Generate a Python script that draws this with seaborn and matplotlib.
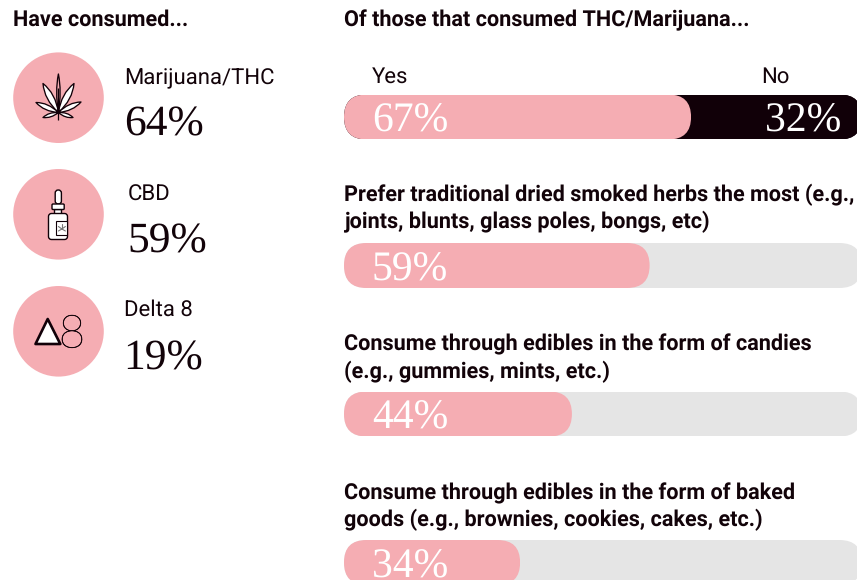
import matplotlib
matplotlib.use("Agg")
import matplotlib.pyplot as plt
from matplotlib import patheffects
from matplotlib.patches import Circle, FancyBboxPatch, PathPatch, Polygon, Rectangle
from matplotlib.path import Path
import pandas as pd
import seaborn as sns

# Survey figures
consumed_names = ["Marijuana/THC", "CBD", "Delta 8"]
consumed_values = [64, 59, 19]
question_labels = [
    "Yes/No",
    "Prefer traditional dried smoked herbs the most (e.g.,\njoints, blunts, glass poles, bongs, etc)",
    "Consume through edibles in the form of candies\n(e.g., gummies, mints, etc.)",
    "Consume through edibles in the form of baked\ngoods (e.g., brownies, cookies, cakes, etc.)",
]
question_values = [67, 59, 44, 34]
no_value = 32
full_scale = [100, 100, 100, 100]

PINK = "#F5ADB3"
GREY = "#E5E5E5"
DARK = "#110008"
INK = "#120309"

W, H = 857, 580
sns.set_theme(style="white")
plt.rcParams["text.hinting"] = "no_hinting"
SANS = "Roboto"
SERIF = "Liberation Serif"

fig = plt.figure(figsize=(W / 100, H / 100), dpi=100, facecolor="white")

# Bar panel: spans the whole canvas, x in percent, y in question rows
ax = fig.add_axes([0, 0, 1, 1])
frame = pd.DataFrame({"question": question_labels, "track": full_scale, "share": question_values})
sns.barplot(data=frame, x="track", y="question", hue="question", orient="h", width=0.303,
            palette=[DARK, GREY, GREY, GREY], saturation=1, linewidth=0, legend=False, ax=ax)
ax.barh([0], [no_value], left=100 - no_value, height=0.303, color=DARK, linewidth=0)
sns.barplot(data=frame, x="share", y="question", orient="h", width=0.303, color=PINK,
            saturation=1, linewidth=0, ax=ax)

PX_PER_PCT = 5.18
PX_PER_ROW = 148.5
ax.set_xlim(-344 / PX_PER_PCT, (W - 344) / PX_PER_PCT)
ax.set_ylim((H - 117.0) / PX_PER_ROW, -117.0 / PX_PER_ROW)
ax.set_xticks([])
ax.set_yticks([])
ax.set_xlabel("")
ax.set_ylabel("")
sns.despine(ax=ax, left=True, bottom=True)

# Round every rectangular bar into a pill by clipping it
radius = 22.5 / PX_PER_PCT
aspect = PX_PER_PCT / PX_PER_ROW


def pill(x0, width, yc, height=0.303):
    return FancyBboxPatch((x0, yc - height / 2), width, height,
                          boxstyle=f"round,pad=0,rounding_size={radius}",
                          mutation_aspect=aspect, transform=ax.transData)


for bar in ax.patches:
    x0, y0 = bar.get_x(), bar.get_y()
    w, h = bar.get_width(), bar.get_height()
    if x0 > 0:  # the "No" segment keeps its left edge square and shares the track's right end
        bar.set_clip_path(pill(0, 100, y0 + h / 2))
    else:
        bar.set_clip_path(pill(x0, w, y0 + h / 2))

# Overlay in canvas pixels for text and icons
ov = fig.add_axes([0, 0, 1, 1], facecolor="none")
ov.set_xlim(0, W)
ov.set_ylim(H, 0)
ov.axis("off")


def sans(x, y, s, size=15.9, weight="normal", color=INK):
    ov.text(x, y, s, fontsize=size, fontweight=weight, color=color, family=SANS,
            ha="left", va="baseline")


def serif(x, y, s, size=30.5, color=INK):
    ov.text(x, y, s, fontsize=size, color=color, family=SERIF, ha="left", va="baseline")


BOLD_SIZE = 15.62
sans(13, 26, "Have consumed...", BOLD_SIZE, "bold")
sans(344, 26, "Of those that consumed THC/Marijuana...", BOLD_SIZE, "bold")

# Left column: icon discs with their shares
disc_y = [97.7, 214.3, 331.3]
for yc in disc_y:
    ov.add_patch(Circle((58.5, yc), 45.3, fc=PINK, ec="none"))

name_pos = [(124.2, 84), (127.5, 200.8), (124.2, 316)]
value_pos = [(124.5, 135), (127.5, 252), (123.5, 369)]
for name, val, np_, vp in zip(consumed_names, consumed_values, name_pos, value_pos):
    sans(np_[0], np_[1], name)
    serif(vp[0], vp[1], f"{val}%", 31.3)


def leaf(base, tip, width, fc="white"):
    bx, by = base
    tx, ty = tip
    dx, dy = tx - bx, ty - by
    nx, ny = -dy, dx
    norm = (nx ** 2 + ny ** 2) ** 0.5
    nx, ny = nx / norm * width, ny / norm * width
    mx, my = bx + dx * 0.55, by + dy * 0.55
    verts = [base, (mx + nx, my + ny), tip, (mx - nx, my - ny), base]
    codes = [Path.MOVETO, Path.CURVE3, Path.CURVE3, Path.CURVE3, Path.CURVE3]
    ov.add_patch(PathPatch(Path(verts, codes), fc=fc, ec=DARK, lw=0.95, joinstyle="round"))


# Cannabis leaf icon
leaf_base = (58.4, 112.5)
leaf(leaf_base, (43.0, 83.5), 6.5)
leaf(leaf_base, (74.0, 83.5), 6.5)
leaf(leaf_base, (36.0, 102.5), 5.0)
leaf(leaf_base, (81.0, 102.0), 5.0)
leaf(leaf_base, (43.0, 117.5), 3.5)
leaf(leaf_base, (73.0, 117.5), 3.5)
leaf(leaf_base, (58.4, 74.0), 3.5, fc=PINK)
ov.plot([58.4, 58.4], [88, 120], color=DARK, lw=0.9, solid_capstyle="butt")

# Dropper bottle icon
stroke = dict(ec=DARK, lw=1.0, fc="white")
ov.add_patch(FancyBboxPatch((55.2, 190), 6.2, 14, boxstyle="round,pad=0,rounding_size=3", **stroke))
ov.add_patch(Rectangle((54.5, 209), 7, 5, **stroke))
ov.add_patch(FancyBboxPatch((52, 204), 12.2, 5.5, boxstyle="round,pad=0,rounding_size=1", **stroke))
ov.add_patch(FancyBboxPatch((48.5, 213.5), 19, 26, boxstyle="round,pad=0,rounding_size=3", **stroke))
ov.add_patch(Rectangle((56.5, 221), 10.8, 14, ec=DARK, lw=0.8, fc="white"))
for dx, dy in [(0, -5), (-3.5, -2.5), (3.5, -2.5), (-3.5, 2), (3.5, 2)]:
    ov.plot([61.9, 61.9 + dx], [229, 229 + dy], color="#777777", lw=0.8)

# Delta symbol next to a thin eight
ov.add_patch(Polygon([(47.7, 319), (35.5, 344), (60.3, 344)], closed=True, fc="white", ec=DARK,
                     lw=1.9, joinstyle="round"))
eight = ov.text(72, 347.5, "8", fontsize=33, color=INK, family="Lato", fontweight="light",
                ha="center", va="baseline")
eight.set_path_effects([patheffects.withStroke(linewidth=0.35, foreground=INK)])

# Right column: headings and bar labels
sans(372, 83, "Yes")
sans(761.2, 83, "No")
label_pos = [(344, 201.4), (344, 350.8), (344, 499.4)]
for lab, (x, y) in zip(question_labels[1:], label_pos):
    first, second = lab.split("\n")
    sans(x, y, first, BOLD_SIZE, "bold")
    sans(x, y + 27, second, BOLD_SIZE, "bold")

pct_baselines = [131, 280, 428, 577]
for val, y in zip(question_values, pct_baselines):
    serif(372, y, f"{val}%", 30, color="white")
serif(765.5, 131, f"{no_value}%", 30, color="white")

fig.savefig("out.png", dpi=100)
